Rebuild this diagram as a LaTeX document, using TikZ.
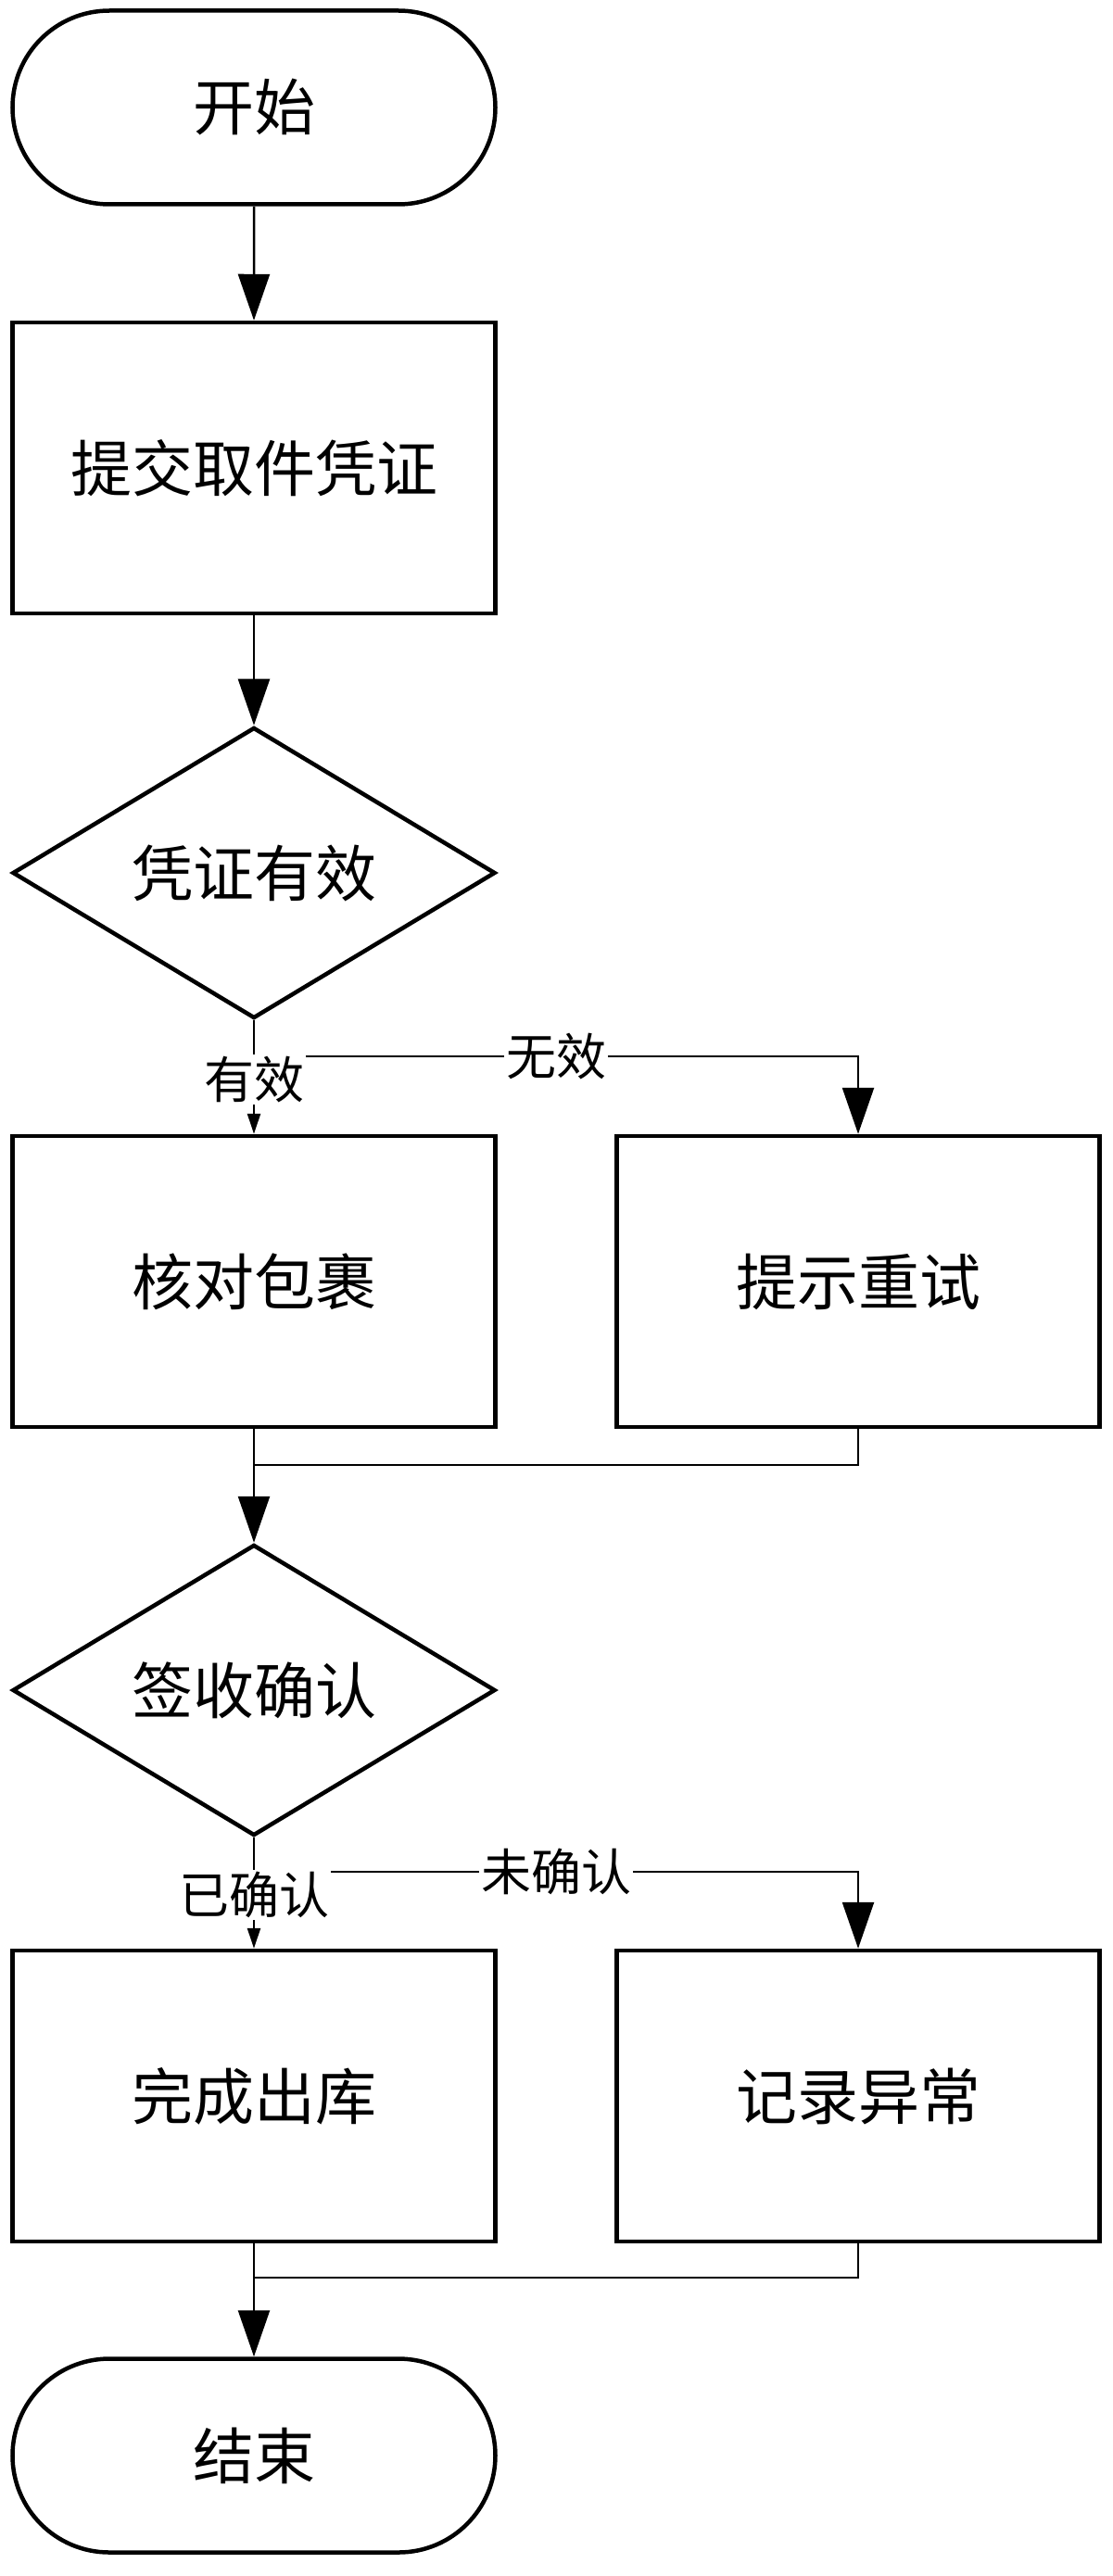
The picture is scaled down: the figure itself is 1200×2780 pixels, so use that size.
\documentclass[tikz,border=0pt]{standalone}
\usepackage{fontspec}
\setmainfont{Noto Sans CJK SC}
\usetikzlibrary{shapes.geometric,shapes.misc,arrows.meta}
\begin{document}
\begin{tikzpicture}[x=1pt,y=1pt,
  base/.style={draw,line width=4.5pt,font=\fontsize{66}{66}\selectfont,inner sep=0pt},
  term/.style={base,rounded rectangle,minimum width=521pt,minimum height=209pt},
  box/.style={base,rectangle,minimum width=521pt,minimum height=314pt},
  dia/.style={base,diamond,minimum width=521pt,minimum height=314pt,aspect=1.66},
  lbl/.style={fill=white,inner sep=2pt,font=\fontsize{54}{54}\selectfont},
  big/.style={-{Triangle[length=50pt,width=34pt]}},
  small/.style={-{Triangle[length=22pt,width=14pt]}},
  line width=2.5pt]
\useasboundingbox (0,0) rectangle (1200,-2780);
\node[term] (start) at (274,-116) {开始};
\node[box] (sub) at (274,-505) {提交取件凭证};
\node[dia] (d1) at (274,-942) {凭证有效};
\node[box] (chk) at (274,-1383) {核对包裹};
\node[box] (retry) at (926,-1383) {提示重试};
\node[dia] (d2) at (274,-1824) {签收确认};
\node[box] (done) at (274,-2262) {完成出库};
\node[box] (rec) at (926,-2262) {记录异常};
\node[term] (end) at (274,-2650) {结束};
\coordinate (b1) at (274,-1140);
\coordinate (b1r) at (926,-1140);
\coordinate (m1) at (274,-1581);
\coordinate (m1r) at (926,-1581);
\coordinate (b2) at (274,-2020);
\coordinate (b2r) at (926,-2020);
\coordinate (m2) at (274,-2458);
\coordinate (m2r) at (926,-2458);
\draw[big] (start) -- (sub);
\draw[big] (sub) -- (d1);
\draw (d1.south) -- (b1);
\draw[big] (b1) -- node[lbl,pos=0.5] (l1) {无效} (b1r) -- (retry.north);
\draw[small] (b1) -- node[lbl,pos=0.3] (l2) {有效} (chk.north);
\draw[big] (chk.south) -- (d2.north);
\draw (retry.south) -- (m1r) -- (m1);
\draw (d2.south) -- (b2);
\draw[big] (b2) -- node[lbl,pos=0.5] (l3) {未确认} (b2r) -- (rec.north);
\draw[small] (b2) -- node[lbl,pos=0.3] (l4) {已确认} (done.north);
\draw[big] (done.south) -- (end.north);
\draw (rec.south) -- (m2r) -- (m2);
\end{tikzpicture}
\end{document}
